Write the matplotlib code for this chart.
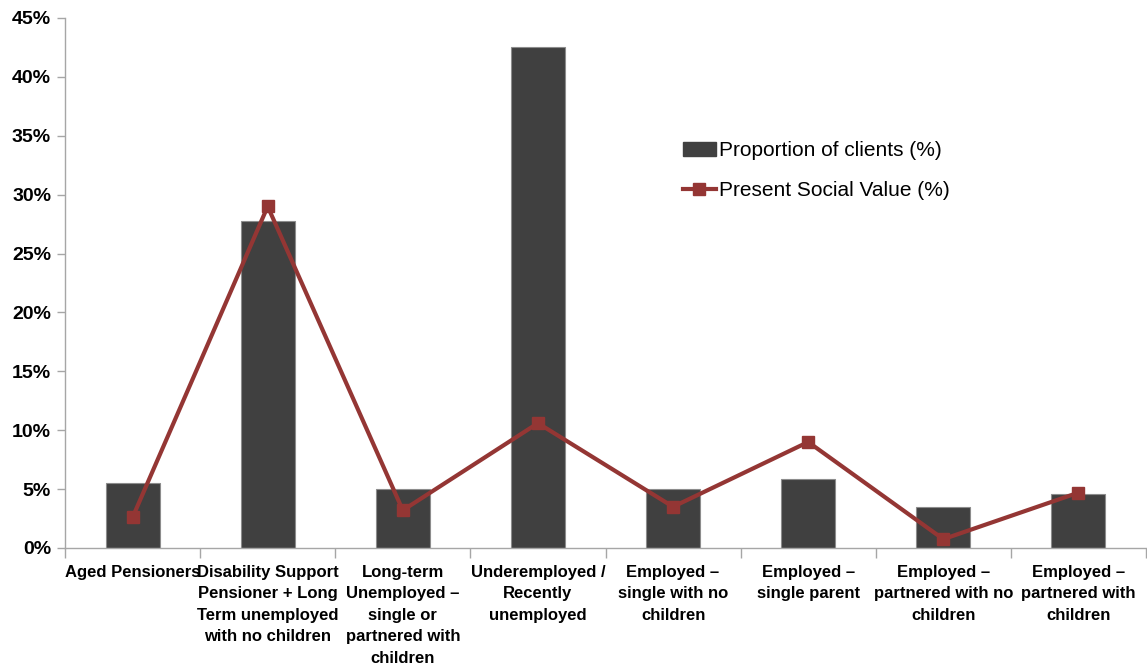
import matplotlib.pyplot as plt
from matplotlib.ticker import FixedLocator, PercentFormatter
from matplotlib.lines import Line2D
from matplotlib.patches import Patch

plt.rcParams['font.family'] = ['Liberation Sans', 'DejaVu Sans']

categories = [
    "Aged Pensioners",
    "Disability Support\nPensioner + Long\nTerm unemployed\nwith no children",
    "Long-term\nUnemployed \u2013\nsingle or\npartnered with\nchildren",
    "Underemployed /\nRecently\nunemployed",
    "Employed \u2013\nsingle with no\nchildren",
    "Employed \u2013\nsingle parent",
    "Employed \u2013\npartnered with no\nchildren",
    "Employed \u2013\npartnered with\nchildren",
]
proportion_clients = [5.5, 27.8, 5.0, 42.5, 5.0, 5.9, 3.45, 4.55]
present_social_value = [2.6, 29.0, 3.2, 10.6, 3.5, 9.0, 0.75, 4.7]

bar_color = "#404040"
line_color = "#943634"
axis_color = "#a6a6a6"

W, H = 1147, 671
fig = plt.figure(figsize=(W / 100, H / 100), dpi=100)
ax = fig.add_axes([65 / W, 1 - 548 / H, 1 - 66 / W, 530 / H])

x = list(range(len(categories)))
ax.bar(x, proportion_clients, width=0.4, color=bar_color,
       edgecolor="#8c8c8c", linewidth=0.8, zorder=2)
ax.plot(x, present_social_value, color=line_color, linewidth=3,
        marker="s", markersize=9, zorder=3)

ax.set_xlim(-0.5, len(categories) - 0.5)
ax.set_ylim(0, 45)
ax.set_yticks(range(0, 46, 5))
ax.yaxis.set_major_formatter(PercentFormatter(decimals=0))

ax.set_xticks(x)
ax.set_xticklabels(categories, fontsize=12, fontweight="bold",
                   linespacing=1.55, va="top")
ax.xaxis.set_minor_locator(FixedLocator([i - 0.5 for i in range(len(categories) + 1)]))
ax.tick_params(axis="x", which="major", length=0, pad=12)
ax.tick_params(axis="x", which="minor", length=7, color=axis_color, width=1)
ax.tick_params(axis="y", length=6, color=axis_color, width=1,
               labelsize=14, pad=4)
for lab in ax.get_yticklabels():
    lab.set_fontweight("bold")

for side in ["top", "right"]:
    ax.spines[side].set_visible(False)
for side in ["left", "bottom"]:
    ax.spines[side].set_color(axis_color)
    ax.spines[side].set_linewidth(1)

handles = [
    Patch(facecolor=bar_color, edgecolor=bar_color),
    Line2D([0], [0], color=line_color, linewidth=3, marker="s", markersize=8),
]
ax.legend(handles, ["Proportion of clients (%)", "Present Social Value (%)"],
          loc="upper left", bbox_to_anchor=(610 / 1081, 1 - 115 / 530),
          frameon=False, fontsize=15, handlelength=1.55, handletextpad=0.15,
          labelspacing=1.0, borderaxespad=0)

fig.savefig("out.png", dpi=100)
